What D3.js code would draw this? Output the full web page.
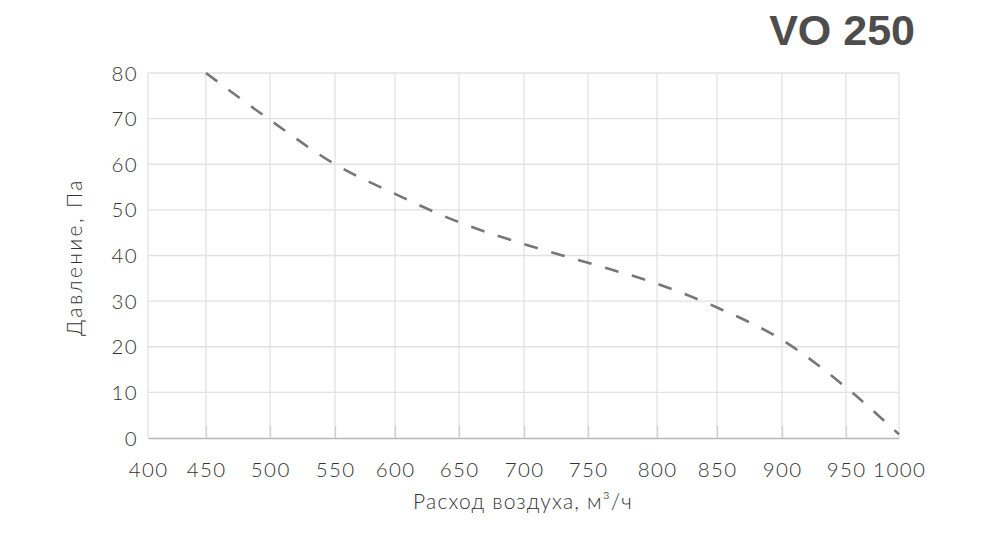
<!DOCTYPE html>
<html>
<head>
<meta charset="utf-8">
<script src="https://cdn.jsdelivr.net/npm/d3@7"></script>
<style>
  html, body { margin: 0; padding: 0; background: #fff; }
  svg { display: block; }
</style>
</head>
<body>
<svg id="chart" width="984" height="537"></svg>
<script>
// ---- data ----
const title = "VO 250";
const xTicks = [400, 450, 500, 550, 600, 650, 700, 750, 800, 850, 900, 950, 1000];
const yTicks = [0, 10, 20, 30, 40, 50, 60, 70, 80];
const flow = [450, 500, 550, 600, 650, 700, 750, 800, 850, 900, 950, 1000];
const pressure = [80, 69.7, 60, 53.5, 47.3, 42.5, 38.4, 33.8, 28.6, 21.5, 11.1, 0.8];
const xLabel = "Расход воздуха, м³/ч";
const yLabel = "Давление, Па";

// ---- layout ----
const plotL = 148, plotR = 899, plotT = 73, plotB = 438;
// tick positions in the original are slightly irregular; fractions of plot width
const xFrac = [0, 0.0772, 0.1625, 0.249, 0.3289, 0.4141, 0.5007, 0.5859, 0.6778, 0.7577, 0.8442, 0.9294, 1];

const svg = d3.select("#chart");
const x = d3.scaleLinear()
  .domain(xTicks)
  .range(xFrac.map(f => plotL + f * (plotR - plotL)));
const y = d3.scaleLinear().domain([0, 80]).range([plotB, plotT]);

const font = "Lato, 'Open Sans', 'DejaVu Sans', sans-serif";

// grid
const grid = svg.append("g");
grid.selectAll("line.h").data(yTicks.filter(d => d > 0)).join("line")
  .attr("class", "h")
  .attr("x1", plotL).attr("x2", plotR)
  .attr("y1", d => y(d)).attr("y2", d => y(d))
  .attr("stroke", "#e2e2e2").attr("stroke-width", 1.3);
grid.selectAll("line.v").data(xTicks).join("line")
  .attr("class", "v")
  .attr("x1", d => x(d)).attr("x2", d => x(d))
  .attr("y1", plotT).attr("y2", plotB)
  .attr("stroke", "#e2e2e2").attr("stroke-width", 1.3);

// bottom axis with inward ticks
const xAxis = svg.append("g")
  .attr("transform", `translate(0,${plotB})`)
  .call(d3.axisBottom(x).tickValues(xTicks.slice(1, -1)).tickSizeInner(-12).tickSizeOuter(0).tickFormat(""));
xAxis.select(".domain").attr("stroke", "#b8b8b8").attr("stroke-width", 1.6);
xAxis.selectAll(".tick line").attr("stroke", "#cfcfcf").attr("stroke-width", 1.3);

// x tick labels
svg.append("g").selectAll("text").data(xTicks).join("text")
  .attr("x", d => x(d) + 0.7).attr("y", 477)
  .attr("text-anchor", "middle")
  .attr("font-family", font).attr("font-weight", 300)
  .attr("font-size", 20.5).attr("letter-spacing", 1.4)
  .attr("fill", "#333")
  .text(d => d);

// y tick labels
svg.append("g").selectAll("text").data(yTicks).join("text")
  .attr("x", 138).attr("y", d => y(d) + 7.5)
  .attr("text-anchor", "end")
  .attr("font-family", font).attr("font-weight", 300)
  .attr("font-size", 20.5).attr("letter-spacing", 1.4)
  .attr("fill", "#333")
  .text(d => d);

// curve
const line = d3.line()
  .x((d, i) => x(flow[i]))
  .y(d => y(d))
  .curve(d3.curveMonotoneX);
svg.append("path")
  .datum(pressure)
  .attr("d", line)
  .attr("fill", "none")
  .attr("stroke", "#777")
  .attr("stroke-width", 2.6)
  .attr("stroke-dasharray", "14,14");

// axis titles
svg.append("text")
  .attr("x", 523).attr("y", 509)
  .attr("text-anchor", "middle")
  .attr("font-family", font).attr("font-weight", 300)
  .attr("font-size", 21).attr("letter-spacing", 1.2).attr("fill", "#333")
  .text(xLabel);
svg.append("text")
  .attr("transform", "translate(82,257) rotate(-90)")
  .attr("text-anchor", "middle")
  .attr("font-family", font).attr("font-weight", 300)
  .attr("font-size", 21).attr("letter-spacing", 2.4).attr("fill", "#333")
  .text(yLabel);

// title
svg.append("text")
  .attr("x", 915).attr("y", 45)
  .attr("text-anchor", "end")
  .attr("font-family", "'Liberation Sans', Arial, sans-serif")
  .attr("font-weight", 700).attr("font-size", 43)
  .attr("fill", "#4d4d4d")
  .text(title);
</script>
</body>
</html>
